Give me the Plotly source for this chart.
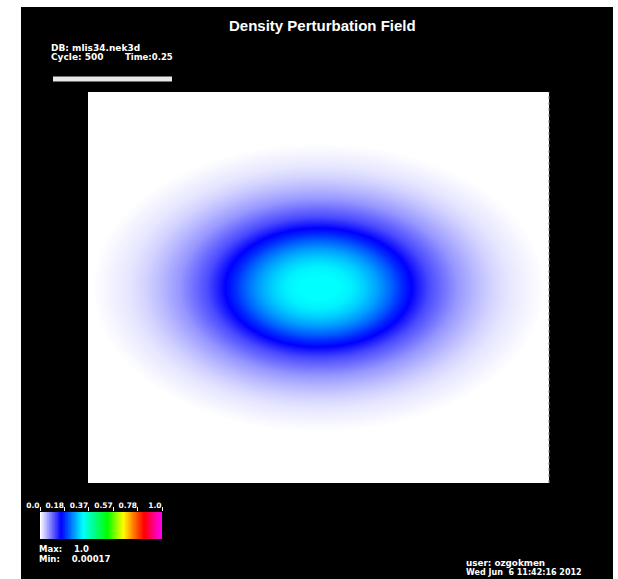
import numpy as np
import plotly.graph_objects as go

# ---- data ----
# radial profile of the density perturbation (elliptical radius, ring = 1.0)
profile_r = [0.0, 0.2, 0.35, 0.5, 0.65, 0.8, 0.9, 1.0, 1.1, 1.2, 1.35, 1.5, 1.7, 1.87, 2.05, 2.28, 2.45]
profile_v = [0.35, 0.35, 0.34, 0.315, 0.28, 0.235, 0.2, 0.172, 0.145, 0.12, 0.095, 0.07, 0.047, 0.03, 0.017, 0.007, 0.0]
center_xy = [0.499, 0.501]
ring_axes = [0.2, 0.15]

bar_tickvals = [0.0, 0.2, 0.4, 0.6, 0.8, 1.0]
bar_ticktext = ["0.0", "0.18", "0.37", "0.57", "0.78", "1.0"]
data_max = "1.0"
data_min = "0.00017"

colorscale = [
    [0.0, "#ffffff"], [0.17, "#0000ff"], [0.35, "#00ffff"], [0.55, "#00ff00"],
    [0.68, "#ffff00"], [0.76, "#ff8000"], [0.85, "#ff0000"], [1.0, "#ff00ff"],
]

# ---- field ----
xs = np.linspace(0, 1, 231)
ys = np.linspace(0, 1, 196)
X, Y = np.meshgrid(xs, ys)
R = np.sqrt(((X - center_xy[0]) / ring_axes[0]) ** 2 + ((Y - center_xy[1]) / ring_axes[1]) ** 2)
Z = np.interp(R, profile_r, profile_v)

W, H = 618, 579
def px(x):
    return x / W
def py(y):
    return (H - y) / H

fig = go.Figure()
fig.add_trace(go.Heatmap(x=xs, y=ys, z=Z, colorscale=colorscale, zmin=0, zmax=1,
                         zsmooth="best", showscale=False, hoverinfo="skip",
                         xaxis="x", yaxis="y"))
bar_levels = np.linspace(0, 1, 200)
fig.add_trace(go.Heatmap(x=bar_levels, y=[0, 1], z=[bar_levels, bar_levels],
                         colorscale=colorscale, zmin=0, zmax=1, zsmooth="best",
                         showscale=False, hoverinfo="skip", xaxis="x2", yaxis="y2"))

font = "DejaVu Sans"
fig.update_layout(
    template="none",
    width=W, height=H, autosize=False,
    margin=dict(l=0, r=0, t=0, b=0, pad=0, autoexpand=False),
    paper_bgcolor="white", plot_bgcolor="white", showlegend=False,
    xaxis=dict(domain=[px(88), px(549)], range=[0, 1], visible=False, fixedrange=True),
    yaxis=dict(domain=[py(483), py(92)], range=[0, 1], visible=False, fixedrange=True),
    xaxis2=dict(domain=[px(40), px(162)], range=[0, 1], anchor="y2", side="top",
                tickvals=bar_tickvals, ticktext=["<b>%s</b>" % t for t in bar_ticktext],
                ticks="outside", ticklabelposition="outside left", tickangle=0,
                ticklen=4, tickcolor="white", tickwidth=1, showgrid=False,
                zeroline=False, showline=False, automargin=False,
                tickfont=dict(family=font, size=7.5, color="white"), fixedrange=True),
    yaxis2=dict(domain=[py(539), py(512)], range=[0, 1], anchor="x2", visible=False,
                fixedrange=True),
)

shapes = [
    dict(type="rect", xref="paper", yref="paper", x0=px(21), x1=px(613), y0=0, y1=py(7),
         fillcolor="black", line=dict(width=0), layer="below"),
    dict(type="line", xref="paper", yref="paper", x0=px(53), x1=px(172), y0=py(79), y1=py(79),
         line=dict(color="#e8e8e8", width=5)),
    dict(type="line", xref="paper", yref="paper", x0=px(549), x1=px(549), y0=py(483), y1=py(92),
         line=dict(color="#888888", width=1, dash="dot")),
]
fig.update_layout(shapes=shapes)

def note(text, x, y, size=8.5, xanchor="left", family=font):
    fig.add_annotation(text=f"<b>{text}</b>", x=px(x), y=py(y),
                       xref="paper", yref="paper", xanchor=xanchor, yanchor="middle",
                       showarrow=False, borderpad=0,
                       font=dict(family=family, size=size, color="white"))

nb = "\u00a0"
note("Density Perturbation Field", 322, 25, size=15, xanchor="center", family="Liberation Sans")
note("DB: mlis34.nek3d", 50, 47.5, size=9)
note("Cycle: 500", 50, 57, size=9)
note("Time:0.25", 124, 57)
note("Max:" + nb * 4 + data_max, 38, 549)
note("Min:" + nb * 4 + data_min, 38, 559)
note("user: ozgokmen", 465, 562.5, size=8.8)
note("Wed Jun" + nb * 2 + "6 11:42:16 2012", 465, 572, size=8)

fig.write_html("out.html", config={"displayModeBar": False},
               post_script="document.body.style.margin='0';")
